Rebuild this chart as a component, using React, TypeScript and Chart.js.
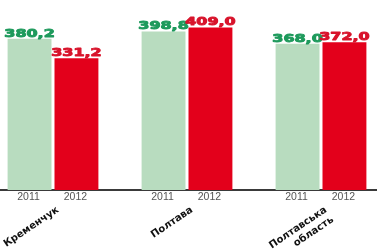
import React, { useEffect, useRef } from 'react';
import { Chart, registerables } from 'chart.js';

Chart.register(...registerables);

const categories: string[][] = [['Кременчук'], ['Полтава'], ['Полтавська', 'область']];
const years = ['2011', '2012'];
const values2011 = [380.2, 398.8, 368.0];
const values2012 = [331.2, 409.0, 372.0];
const yMax = 478;

const barColors = ['#b8dcbf', '#e3001b'];
const labelColors = ['#1e9a5c', '#d8132b'];

const fmt = (v: number) => v.toFixed(1).replace('.', ',');

const barLabelsPlugin = {
  id: 'barLabels',
  afterDatasetsDraw(chart: any) {
    const ctx = chart.ctx as CanvasRenderingContext2D;
    chart.data.datasets.forEach((ds: any, di: number) => {
      const meta = chart.getDatasetMeta(di);
      meta.data.forEach((bar: any, i: number) => {
        const { x, y } = bar.getProps(['x', 'y'], true);
        ctx.save();
        ctx.font = 'bold 11px "DejaVu Sans"';
        ctx.fillStyle = labelColors[di];
        ctx.strokeStyle = labelColors[di];
        ctx.lineWidth = 0.9;
        ctx.lineJoin = 'round';
        ctx.textAlign = 'center';
        ctx.textBaseline = 'alphabetic';
        ctx.translate(x, y - 2);
        ctx.scale(1.45, 1);
        ctx.strokeText(fmt(ds.data[i]), 0, 0);
        ctx.fillText(fmt(ds.data[i]), 0, 0);
        ctx.restore();

        ctx.save();
        ctx.font = '10.5px "Liberation Sans"';
        ctx.fillStyle = '#555';
        ctx.textAlign = 'center';
        ctx.textBaseline = 'alphabetic';
        ctx.fillText(ds.label, x - 1, chart.chartArea.bottom + 10);
        ctx.restore();
      });
    });
  },
};

export default function App() {
  const canvasRef = useRef<HTMLCanvasElement | null>(null);

  useEffect(() => {
    if (!canvasRef.current) return;
    const chart = new Chart(canvasRef.current, {
      type: 'bar',
      data: {
        labels: categories,
        datasets: [
          { label: years[0], data: values2011, backgroundColor: barColors[0] },
          { label: years[1], data: values2012, backgroundColor: barColors[1] },
        ],
      },
      options: {
        animation: false,
        responsive: true,
        maintainAspectRatio: false,
        layout: { padding: 0 },
        datasets: { bar: { categoryPercentage: 0.7, barPercentage: 0.936 } },
        plugins: { legend: { display: false }, tooltip: { enabled: false } },
        scales: {
          x: {
            grid: { display: false, drawTicks: false },
            border: { display: true, color: '#3a3a3a', width: 2 },
            ticks: {
              minRotation: 34,
              maxRotation: 34,
              padding: 14,
              labelOffset: 5,
              color: '#111',
              font: { family: 'DejaVu Sans', weight: 'bold', size: 10 },
            },
            afterFit(scale: any) {
              scale.height = 61;
              scale.paddingLeft = 0;
              scale.paddingRight = 0;
            },
          },
          y: {
            display: false,
            min: 0,
            max: yMax,
          },
        },
      },
      plugins: [barLabelsPlugin],
    });
    return () => chart.destroy();
  }, []);

  return (
    <div style={{ position: 'fixed', left: 0, top: 0, width: 377, height: 251, overflow: 'hidden', background: '#fff' }}>
      <div style={{ position: 'absolute', left: -14, top: 0, width: 402, height: 251 }}>
        <canvas ref={canvasRef} />
      </div>
    </div>
  );
}
